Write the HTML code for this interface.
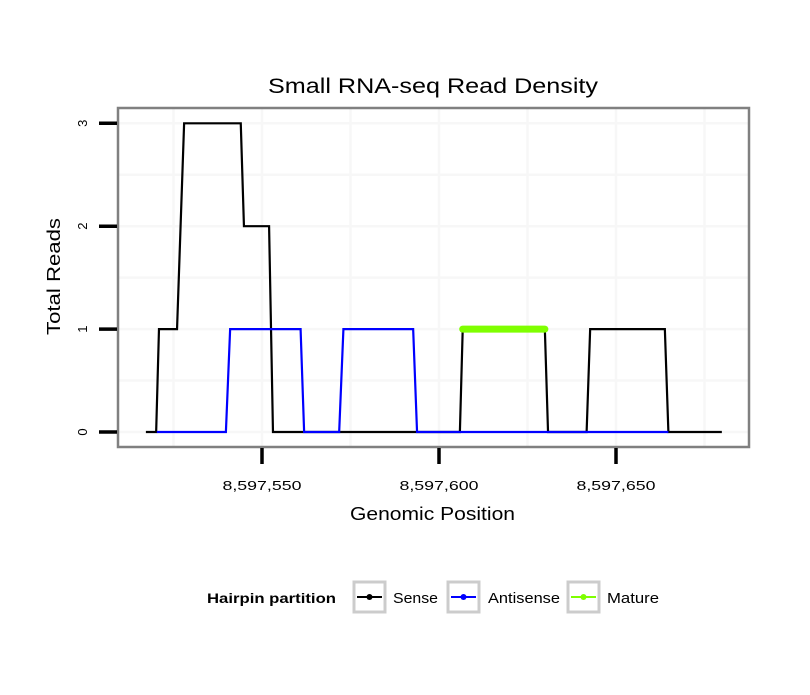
<!DOCTYPE html>
<html><head><meta charset="utf-8"><style>
body{margin:0;background:#fff;}
svg text{font-family:"Liberation Sans",sans-serif;}
</style></head><body>
<svg id="chart" width="810" height="690" xmlns="http://www.w3.org/2000/svg">
<rect width="810" height="690" fill="#fff"/>
<text x="268" y="93" font-size="21" textLength="330" lengthAdjust="spacingAndGlyphs">Small RNA-seq Read Density</text>
<g id="grid"></g>
<g id="series"></g>
<rect x="118" y="108" width="631" height="339" fill="none" stroke="#808080" stroke-width="2.5"/>
<g id="axes"></g>
<text x="350" y="520" font-size="18" textLength="165" lengthAdjust="spacingAndGlyphs">Genomic Position</text>
<text transform="translate(60,335) rotate(-90)" font-size="18" textLength="117" lengthAdjust="spacingAndGlyphs">Total Reads</text>
<g>
<text x="207" y="603" font-size="14" font-weight="bold" textLength="129" lengthAdjust="spacingAndGlyphs">Hairpin partition</text>
<g>
<rect x="354" y="582" width="31" height="30" fill="#fff" stroke="#ccc" stroke-width="3"/>
<line x1="357" y1="597" x2="382" y2="597" stroke="#000" stroke-width="2"/><circle cx="369.5" cy="597" r="3" fill="#000"/>
<text x="393" y="603" font-size="15" textLength="45" lengthAdjust="spacingAndGlyphs">Sense</text></g>
<g>
<rect x="448" y="582" width="31" height="30" fill="#fff" stroke="#ccc" stroke-width="3"/>
<line x1="451" y1="597" x2="476" y2="597" stroke="#0000ff" stroke-width="2"/><circle cx="463.5" cy="597" r="3" fill="#0000ff"/>
<text x="488" y="603" font-size="15" textLength="72" lengthAdjust="spacingAndGlyphs">Antisense</text></g>
<g>
<rect x="568" y="582" width="31" height="30" fill="#fff" stroke="#ccc" stroke-width="3"/>
<line x1="571" y1="597" x2="596" y2="597" stroke="#7fff00" stroke-width="2"/><circle cx="583.5" cy="597" r="3" fill="#7fff00"/>
<text x="607" y="603" font-size="15" textLength="52" lengthAdjust="spacingAndGlyphs">Mature</text></g>
</g>
</svg>
<script>
const basePos = 8597550;
const senseX = [-32.8,-29.9,-29.1,-24.0,-22.0,-6.0,-5.1,2.0,3.1,55.9,56.7,79.9,80.8,91.7,92.7,113.8,114.8,129.9];
const senseY = [0,0,1,1,3,3,2,2,0,0,1,1,0,0,1,1,0,0];
const antiX = [-29.7,-10.2,-9.0,10.9,11.9,21.8,23.0,42.7,43.8,114.8];
const antiY = [0,0,1,1,0,0,1,1,0,0];
const matureX = [56.7,79.9];
const matureY = [1,1];
const xTicks = [8597550,8597600,8597650];
const xTickLabels = ["8,597,550","8,597,600","8,597,650"];
const yTicks = [0,1,2,3];

const NS="http://www.w3.org/2000/svg";
function sx(p){return 262+p*3.54;}
function sxAbs(v){return sx(v-basePos);}
function sy(v){return 432-v*102.9;}
function mk(tag,attrs,parent){const e=document.createElementNS(NS,tag);for(const k in attrs)e.setAttribute(k,attrs[k]);parent.appendChild(e);return e;}
const grid=document.getElementById('grid'),series=document.getElementById('series'),axes=document.getElementById('axes');
for(let i=-1;i<=3;i++){
  const v=xTicks[0]+i*50;
  [v, v+25].forEach(g=>{const x=sxAbs(g); if(x>119&&x<748){
    const l=mk('line',{x1:x,x2:x,y1:109,y2:446,stroke:'#f7f7f7','stroke-width':2.5},grid);
    
    }});
}
for(let v=-0.5;v<=3.5;v+=0.5){const y=sy(v); if(y>109&&y<446){
  const l=mk('line',{x1:119,x2:748,y1:y,y2:y,stroke:'#f7f7f7','stroke-width':2.5},grid);
  
  }}
function poly(xs,ys,color,w,name,cap){
  const pts=xs.map((x,i)=>sx(x)+','+sy(ys[i])).join(' ');
  const p=mk('polyline',{points:pts,fill:'none',stroke:color,'stroke-width':w,'stroke-linecap':cap||'butt','stroke-linejoin':'miter'},series);
  
  
}
poly(senseX,senseY,'#000',2.2,'sense-line');
poly(antiX,antiY,'#0000ff',2.2,'antisense-line');
poly(matureX,matureY,'#7fff00',7,'mature-line','round');
xTicks.forEach((t,i)=>{const x=sxAbs(t);
  const l=mk('line',{x1:x,x2:x,y1:448,y2:464,stroke:'#000','stroke-width':3.5},axes);
  
  
  const tx=mk('text',{x:x-39.5,y:490,'font-size':13,textLength:79,lengthAdjust:'spacingAndGlyphs'},axes);
  tx.textContent=xTickLabels[i];
  
  
});
yTicks.forEach(t=>{const y=sy(t);
  const l=mk('line',{x1:99,x2:117,y1:y,y2:y,stroke:'#000','stroke-width':3.5},axes);
  
  
  const tx=mk('text',{transform:'translate(87,'+y+') rotate(-90)','font-size':13,'text-anchor':'middle'},axes);
  tx.textContent=String(t);
  
  
});
</script>
</body></html>
